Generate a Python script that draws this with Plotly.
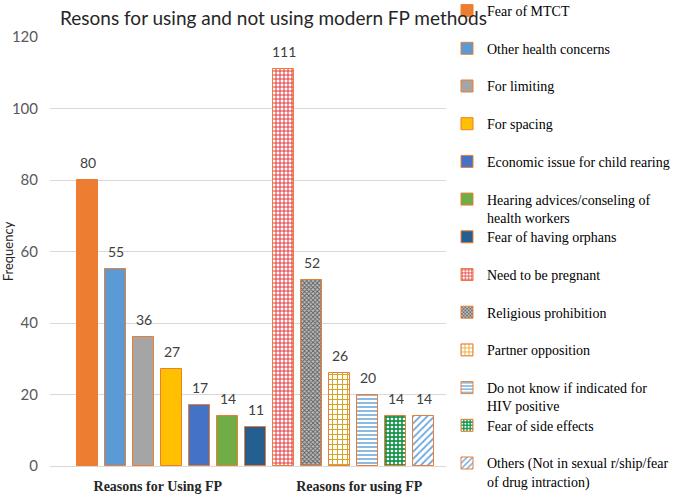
import plotly.graph_objects as go

# ---------------- data ----------------
reasons_using = [
    "Fear of MTCT",
    "Other health concerns",
    "For limiting",
    "For spacing",
    "Economic issue for child rearing",
    "Hearing advices/conseling of<br>health workers",
    "Fear of having orphans",
]
values_using = [80, 55, 36, 27, 17, 14, 11]

reasons_not_using = [
    "Need to be pregnant",
    "Religious prohibition",
    "Partner opposition",
    "Do not know if indicated for<br>HIV positive",
    "Fear of side effects",
    "Others (Not in sexual r/ship/fear<br>of drug intraction)",
]
values_not_using = [111, 52, 26, 20, 14, 14]

group_labels = ["Reasons for Using FP", "Reasons for using FP"]
chart_title = "Resons for using and not using modern FP methods"
y_title = "Frequency"
y_ticks = [0, 20, 40, 60, 80, 100, 120]

# ---------------- styles ----------------
OUTLINE = "#ED7D31"
solid_colors = ["#ED7D31", "#5B9BD5", "#A5A5A5", "#FFC000", "#4472C4", "#70AD47", "#255E91"]
patterns = [
    dict(shape="+", fgcolor="#E2393F", bgcolor="white", size=4, solidity=0.45),
    dict(shape="x", fgcolor="#5E5E5E", bgcolor="#C0C0C0", size=3, solidity=0.5),
    dict(shape="+", fgcolor="#D6A21E", bgcolor="white", size=5, solidity=0.35),
    dict(shape="-", fgcolor="#6FA8DC", bgcolor="white", size=4, solidity=0.4),
    dict(shape=".", fgcolor="white", bgcolor="#15944A", size=4, solidity=0.35),
    dict(shape="/", fgcolor="#6FA8DC", bgcolor="white", size=5, solidity=0.35),
]

W, H = 675, 499
L, R, T, B = 50, 229, 37, 33

names = reasons_using + reasons_not_using
values = values_using + values_not_using

fig = go.Figure()
legend_layouts = {}
first_center = 10
pitch = 37.7
plot_h = H - T - B
for i, (name, val) in enumerate(zip(names, values)):
    lg = "legend" if i == 0 else f"legend{i + 1}"
    if i < len(reasons_using):
        marker = dict(color=solid_colors[i], line=dict(color=OUTLINE, width=1))
    else:
        p = patterns[i - len(reasons_using)]
        marker = dict(color="white", line=dict(color=OUTLINE, width=1),
                      pattern=dict(fillmode="replace", **p))
    fig.add_trace(go.Bar(
        x=[i], y=[val], name=name, width=0.75, marker=marker,
        legend=lg, showlegend=True, hoverinfo="y+name",
    ))
    fig.add_annotation(
        x=i, y=val, text=str(val), showarrow=False, yanchor="bottom", yshift=7,
        font=dict(family="Lato", size=14, color="#404040"),
    )
    top_px = first_center + i * pitch - 15
    legend_layouts[lg] = dict(
        x=447 / W, xref="container", xanchor="left",
        y=(H - B - top_px) / plot_h, yref="paper", yanchor="top",
        bgcolor="rgba(255,255,255,0)", borderwidth=0, valign="top",
        font=dict(family="Liberation Serif", size=14, color="#000000"),
        itemwidth=30,
    )

fig.update_layout(
    width=W, height=H,
    margin=dict(l=L, r=R, t=T, b=B, autoexpand=False),
    paper_bgcolor="white", plot_bgcolor="white",
    title=dict(text=chart_title, x=60 / W, xref="container", xanchor="left",
               y=1 - 18 / H, yref="container", yanchor="middle",
               pad=dict(l=0, r=0, t=0, b=0),
               font=dict(family="Lato", size=19, color="#262626")),
    xaxis=dict(range=[-1.35, 12.8], tickvals=[2.5, 9.7], ticktext=group_labels,
               showgrid=False, zeroline=False, showline=False, ticks="",
               automargin=False,
               tickfont=dict(family="Liberation Serif", size=14, color="#262626", weight="bold"),
               ticklabelstandoff=10, fixedrange=True),
    yaxis=dict(range=[0, 120], tickvals=y_ticks, showgrid=True, gridcolor="#D9D9D9",
               zeroline=True, zerolinecolor="#D9D9D9", zerolinewidth=1, showline=False,
               automargin=False,
               tickfont=dict(family="Lato", size=15, color="#595959"),
               ticklabelstandoff=11,
               title=dict(text=y_title, font=dict(family="Lato", size=13, color="#262626"),
                          standoff=4)),
    showlegend=True,
    bargap=0,
    **legend_layouts,
)

fig.write_html("out.html", config={"displayModeBar": False},
               post_script="document.body.style.margin='0';")
